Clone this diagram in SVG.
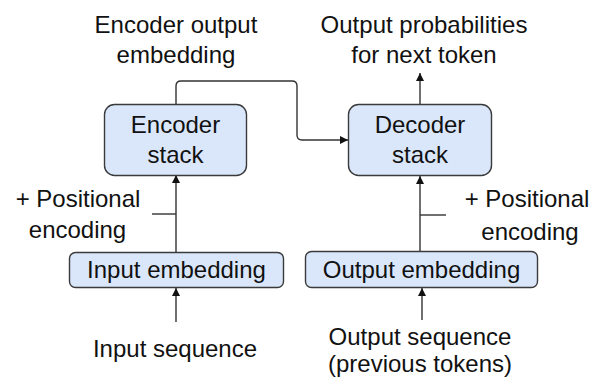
<svg xmlns="http://www.w3.org/2000/svg" width="593" height="380" viewBox="0 0 593 380">
<style>
  text { font-family: "Liberation Sans", Arial, sans-serif; font-size: 24px; fill: #111; }
  .c { text-anchor: middle; }
  .box { fill: #dae7fb; stroke: #3a3a3a; stroke-width: 1.4; }
  .ln { fill: none; stroke: #333; stroke-width: 1.4; }
</style>
<defs>
  <marker id="ah" viewBox="0 0 10 10" refX="10" refY="5" markerWidth="9" markerHeight="8" markerUnits="userSpaceOnUse" orient="auto">
    <path d="M0,0 L10,5 L0,10 z" fill="#111"/>
  </marker>
</defs>
<rect width="593" height="380" fill="#fff"/>

<g id="connectors">
  <path class="ln" d="M176,104 V86 Q176,81 181,81 H292 Q297,81 297,86 V135 Q297,140 302,140 H348" marker-end="url(#ah)"/>
  <path class="ln" d="M420,104 V73" marker-end="url(#ah)"/>
  <path class="ln" d="M176,252 V175" marker-end="url(#ah)"/>
  <path class="ln" d="M420,251 V176" marker-end="url(#ah)"/>
  <path class="ln" d="M176,322 V288" marker-end="url(#ah)"/>
  <path class="ln" d="M422,320 V288" marker-end="url(#ah)"/>
  <path class="ln" d="M152,214 H176"/>
  <path class="ln" d="M420,215 H446"/>
</g>

<g id="encoder-stack">
  <rect class="box" x="104.5" y="104.5" width="142" height="71" rx="10"/>
  <text class="c" x="175.5" y="133">Encoder</text>
  <text class="c" x="175.5" y="163">stack</text>
</g>

<g id="decoder-stack">
  <rect class="box" x="348.5" y="104.5" width="143" height="71" rx="10"/>
  <text class="c" x="420" y="133">Decoder</text>
  <text class="c" x="420" y="163">stack</text>
</g>

<g id="input-embedding">
  <rect class="box" x="69.5" y="252.5" width="214" height="35" rx="6"/>
  <text class="c" x="176.5" y="278">Input embedding</text>
</g>

<g id="output-embedding">
  <rect class="box" x="305.5" y="251.5" width="232" height="36" rx="6"/>
  <text class="c" x="421.5" y="278">Output embedding</text>
</g>

<g id="label-encoder-output">
  <text class="c" x="176" y="33">Encoder output</text>
  <text class="c" x="176" y="63">embedding</text>
</g>

<g id="label-output-probabilities">
  <text class="c" x="424" y="33">Output probabilities</text>
  <text class="c" x="424" y="63">for next token</text>
</g>

<g id="label-positional-left">
  <text class="c" x="78" y="207">+ Positional</text>
  <text class="c" x="77.5" y="238">encoding</text>
</g>

<g id="label-positional-right">
  <text class="c" x="527" y="207">+ Positional</text>
  <text class="c" x="530" y="240">encoding</text>
</g>

<g id="label-input-sequence">
  <text class="c" x="175" y="357">Input sequence</text>
</g>

<g id="label-output-sequence">
  <text class="c" x="420" y="345">Output sequence</text>
  <text class="c" x="420" y="372">(previous tokens)</text>
</g>
</svg>
